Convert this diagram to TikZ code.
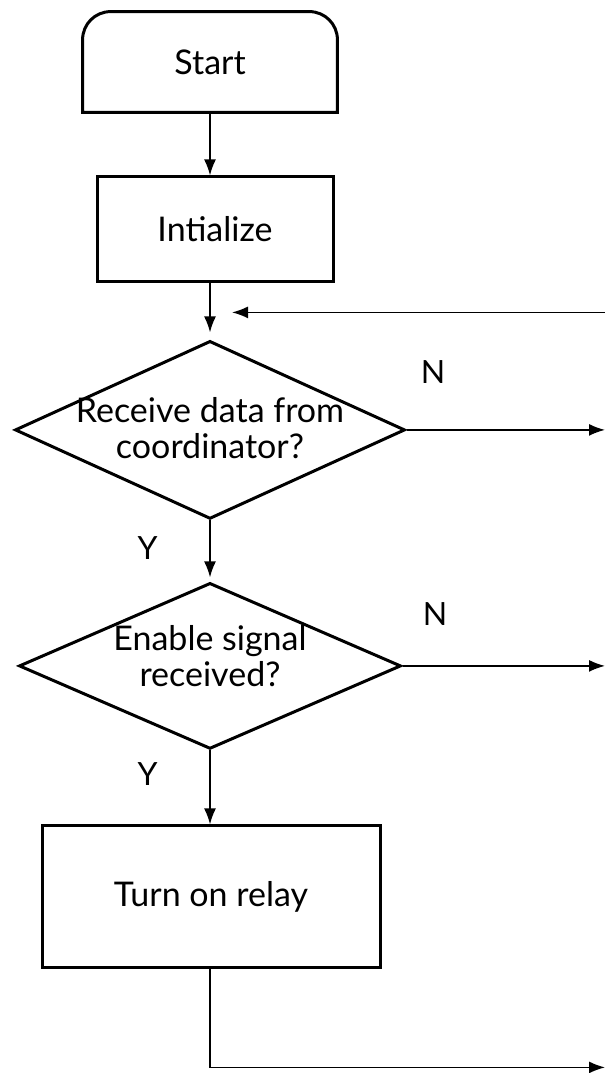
\documentclass[tikz,border=0pt]{standalone}
\usepackage{fontspec}
\setmainfont{Lato}
\usetikzlibrary{arrows.meta, shapes.geometric, positioning, calc}

\begin{document}
\begin{tikzpicture}[
	termbox/.style={rectangle, minimum height=50pt, minimum width=127pt, align=center},
	procbox/.style={rectangle, draw, line width=1.5pt, align=center},
	decision/.style={diamond, draw, line width=1.5pt, inner sep=0pt},
	dtext/.style={align=center, font=\fontsize{17}{18}\selectfont},
	arrow/.style={-{Latex[length=8pt, width=6pt]}, line width=.8pt},
	flag/.style={font=\fontsize{16}{18}\selectfont, inner sep=0pt},
	every node/.style={font=\fontsize{17}{20}\selectfont}
	]
	\useasboundingbox (0,0) rectangle (302.5pt,-536.5pt);
	\coordinate (edge) at (302.5pt,0);

	\node[termbox] (start) at (105pt,-31pt) {Start};
	\draw[line width=1.5pt] (start.south west) [rounded corners=14pt] -- (start.north west) -- (start.north east) [sharp corners] -- (start.south east) -- cycle;
	\node[procbox, minimum width=118pt, minimum height=52.5pt, below=31.5pt of start, xshift=2.5pt] (init) {Intialize};
	\node[decision, minimum width=195pt, minimum height=89pt, below=28pt of init, xshift=-2.5pt,
		label={[dtext, yshift=1pt]center:Receive data from\\coordinator?}] (recv) {};
	\node[decision, minimum width=191pt, minimum height=83pt, below=30.5pt of recv,
		label={[dtext, yshift=5pt]center:Enable signal\\received?}] (enable) {};
	\node[procbox, minimum width=169pt, minimum height=71pt, below=37pt of enable, xshift=.5pt] (relay) {Turn on relay};

	% yes / no flags
	\node[flag, above right=23pt and 7pt of recv.east] (n1) {N};
	\node[flag, above right=20pt and 10pt of enable.east] (n2) {N};
	\node[flag, below left=8pt and 26pt of recv.south] (y1) {Y};
	\node[flag, below left=6pt and 26pt of enable.south] (y2) {Y};

	% main flow
	\draw[arrow] (start.south) -- (start.south |- init.north);
	\draw[arrow, shorten >=3.5pt] (recv.north |- init.south) -- (recv.north);
	\draw[arrow, shorten >=2pt] (recv.south) -- (enable.north);
	\draw[arrow] (enable.south) -- (enable.south |- relay.north);

	% branches leaving the page
	\coordinate[above=13.5pt of recv.north] (loop);
	\draw[arrow] (loop -| edge) -- ([xshift=11pt]loop);
	\draw[arrow] (recv.east) -- (recv.east -| edge);
	\draw[arrow] (enable.east) -- (enable.east -| edge);
	\coordinate (out) at (enable.south |- relay.south);
	\coordinate[below=49pt of out] (back);
	\draw[arrow] (out) -- (back) -- (back -| edge);
\end{tikzpicture}
\end{document}
